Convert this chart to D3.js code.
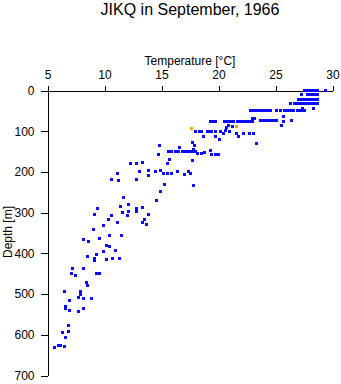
<!DOCTYPE html>
<html><head><meta charset="utf-8">
<script src="https://cdn.jsdelivr.net/npm/d3@7"></script>
<style>
html,body{margin:0;padding:0;background:#fff;}
svg{display:block;}
text{font-family:"Liberation Sans",Arial,sans-serif;fill:#000;}
</style></head>
<body>
<script>
// ---- data ----
const title = "JIKQ in September, 1966";
const xLabel = "Temperature [°C]";
const yLabel = "Depth [m]";
const xTicks = [5, 10, 15, 20, 25, 30];
const yTicks = [0, 100, 200, 300, 400, 500, 600, 700];

// blue observations: temperature [°C] and depth [m]
const tempBlue = [
  27.5,27.6,27.7,27.8,27.9,28.0,28.1,28.2,28.3,28.4,28.5,28.6,28.7,29.4,
  27.3,27.8,27.9,28.0,28.1,28.2,28.3,28.4,28.5,28.6,28.7,
  27.0,27.1,27.2,27.3,27.4,27.5,27.6,27.9,28.0,28.1,28.2,28.3,28.4,28.5,28.6,28.7,
  26.3,26.7,26.8,26.9,27.0,27.1,27.2,27.3,27.4,27.5,27.6,27.7,27.8,27.9,28.0,28.1,28.2,28.3,28.4,28.5,28.6,28.7,
  22.8,23.1,23.3,23.5,23.8,24.0,24.2,24.4,24.6,25.1,25.4,25.8,26.0,26.2,26.4,26.6,26.9,27.1,27.3,27.5,27.35,28.3,
  25.7,
  23.0,23.2,23.7,23.9,24.1,24.3,24.5,24.7,24.9,25.1,26.4,
  25.7,25.5,
  19.3,19.5,19.7,20.5,20.7,20.9,21.1,21.3,21.7,21.9,22.1,22.3,22.5,22.7,23.0,
  20.4,20.6,20.7,20.9,21.2,
  18.0,18.3,18.5,19.0,19.2,19.4,19.7,20.15,21.0,
  21.6,22.2,22.7,23.1,
  18.7,19.7,21.75,20.1,17.7,23.3,17.9,
  16.6,15.6,15.9,16.2,16.4,16.5,16.8,17.1,17.4,17.5,17.8,18.0,17.8,
  18.2,18.5,18.8,19.3,19.4,19.7,20.0,17.75,14.8,14.7,15.7,15.5,
  12.25,12.8,13.3,13.1,13.9,14.45,14.9,15.15,15.5,15.9,16.4,17.0,17.4,17.5,13.9,11.1,10.6,11.2,12.8,15.3,17.8,14.9,
  11.7,14.55,12.1,11.4,12.8,13.3,9.4,9.1,12.8,11.6,12.1,10.65,12.0,13.9,10.35,13.5,13.3,13.7,11.1,9.9,9.0,
  11.5,10.4,8.15,8.6,9.6,10.15,10.4,9.9,11.0,9.3,8.5,9.1,9.1,10.15,10.7,11.3,
  8.2,9.3,9.6,7.2,7.1,7.45,8.4,8.55,6.5,7.9,7.9,7.7,8.15,8.85,6.9,6.6,6.55,6.9,7.7,8.15,
  6.8,6.8,6.3,6.6,5.6,5.95,6.1,6.5
];
const depthBlue = [
  1,1,1,1,1,1,1,1,1,1,1,1,1,1,
  11,11,11,11,11,11,11,11,11,11,11,
  21,21,21,21,21,21,21,21,21,21,21,21,21,21,21,21,
  31,31,31,31,31,31,31,31,31,31,31,31,31,31,31,31,31,31,31,31,31,31,
  49,49,49,49,49,49,49,49,49,49,49,49,49,49,49,49,49,49,49,49,44,44,
  65,
  68,68,74,74,74,74,74,74,74,74,73,
  76,86,
  77,77,77,77,77,77,77,77,77,77,77,77,77,77,77,
  105,98,91,86,88,
  100,100,100,100,100,100,100,100,100,
  106,106,106,106,
  113,113,113,121,127,129,136,
  140,151,151,151,151,150,150,151,150,149,150,150,145,
  154,154,152,148,157,157,158,172,136,158,170,180,
  180,180,177,198,196,200,196,203,203,203,200,207,200,204,209,204,218,221,219,230,233,249,
  263,271,279,286,290,288,290,304,296,300,296,307,308,304,317,317,323,328,325,331,341,
  356,357,365,371,363,380,384,395,394,404,407,412,418,414,412,412,
  437,449,449,436,449,454,471,480,493,493,500,508,511,511,515,530,536,540,542,535,
  577,591,594,606,630,626,627,629
];
// orange observations
const tempOrange = [17.6, 21.6];
const depthOrange = [94, 88];

// ---- drawing ----
const W = 341, H = 384;
const svg = d3.select("body").append("svg").attr("width", W).attr("height", H);

const x = d3.scaleLinear().domain([5, 30]).range([47.5, 332.5]);
const y = d3.scaleLinear().domain([0, 700]).range([90.5, 375.5]);

svg.append("text").attr("x", 190).attr("y", 15)
  .attr("text-anchor", "middle").style("font-size", "16px").text(title);

const gx = svg.append("g").attr("transform", "translate(0,90.5)")
  .call(d3.axisTop(x).tickValues(xTicks).tickSize(5).tickSizeOuter(0).tickPadding(7).tickFormat(d3.format("d")));
const gy = svg.append("g").attr("transform", "translate(47.5,0)")
  .call(d3.axisLeft(y).tickValues(yTicks).tickSize(7).tickSizeOuter(0).tickPadding(6).tickFormat(d3.format("d")));
[gx, gy].forEach(g => {
  g.selectAll("path,line").attr("stroke", "#000").attr("stroke-width", 1).attr("shape-rendering", "crispEdges");
  g.selectAll("text").style("font-size", "12px").attr("fill", "#000")
    .style("font-family", "'Liberation Sans', Arial, sans-serif");
});

svg.append("text").attr("x", 190).attr("y", 65)
  .attr("text-anchor", "middle").style("font-size", "12px").text(xLabel);
svg.append("text").attr("transform", "translate(12,232) rotate(-90)")
  .attr("text-anchor", "middle").style("font-size", "12px").text(yLabel);

const sz = 3;
svg.append("g").selectAll("rect").data(d3.range(tempBlue.length)).join("rect")
  .attr("x", i => Math.round(x(tempBlue[i]) - sz / 2))
  .attr("y", i => Math.round(y(depthBlue[i]) - sz / 2))
  .attr("width", sz).attr("height", sz)
  .attr("fill", "#0a0aff").attr("shape-rendering", "crispEdges");

svg.append("g").selectAll("rect").data(d3.range(tempOrange.length)).join("rect")
  .attr("x", i => Math.round(x(tempOrange[i]) - sz / 2))
  .attr("y", i => Math.round(y(depthOrange[i]) - sz / 2))
  .attr("width", sz).attr("height", sz)
  .attr("fill", "#ffa500").attr("shape-rendering", "crispEdges");
</script>
</body></html>
